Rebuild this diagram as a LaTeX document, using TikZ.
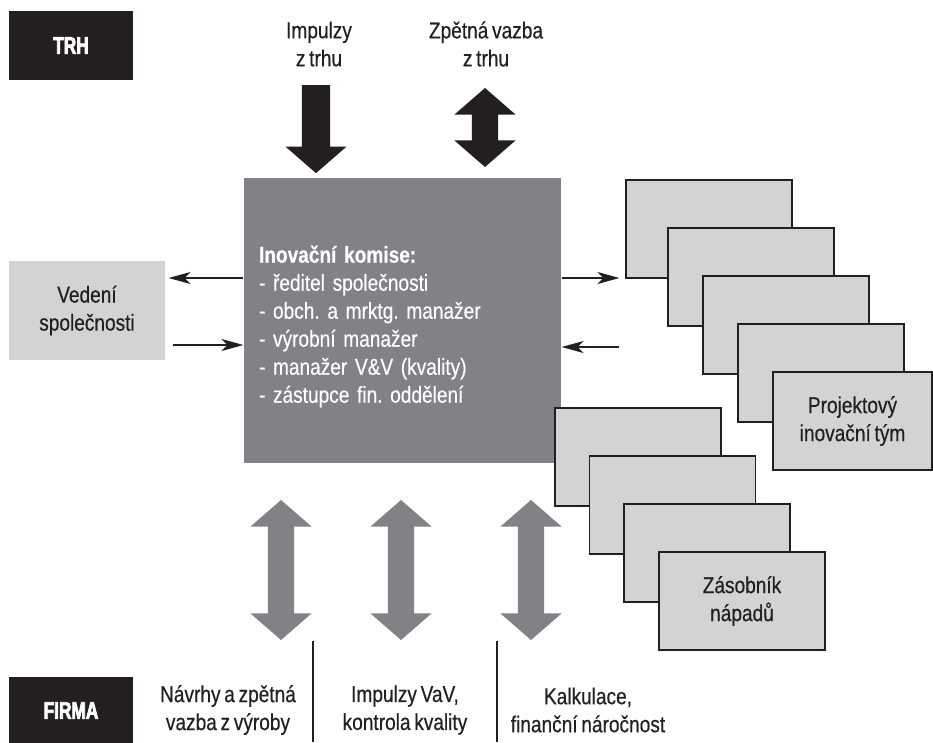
\documentclass[tikz,border=0pt]{standalone}
\usepackage{fontspec}
\setmainfont{Liberation Sans}[FakeStretch=0.83, WordSpace=0.7, FakeBold=0.4]
\newfontfamily\tagfont{Liberation Sans}[FakeStretch=0.72, BoldFeatures={FakeBold=3}]
\usetikzlibrary{arrows.meta, positioning, shapes.arrows}
\definecolor{cdark}{HTML}{231F20}
\definecolor{cgrey}{HTML}{808285}
\definecolor{clight}{HTML}{D1D3D4}
\tikzset{
  every picture/.style={line width=1.2pt},
  txt/.style={font=\fontsize{23}{28}\selectfont\frenchspacing, text=cdark, align=center},
  tag/.style={fill=cdark, text=white, font=\fontsize{24}{26}\selectfont\tagfont\bfseries, minimum width=124pt, minimum height=#1, inner sep=0pt},
  tag/.default=69pt,
  panel/.style={fill=cgrey, minimum width=317pt, minimum height=285pt, inner sep=0pt},
  paneltext/.style={text=white, font=\fontsize{23}{28}\selectfont\frenchspacing, text width=287pt, inner sep=0pt, align=left},
  sheet/.style={draw=cdark, fill=clight, minimum width=166pt, minimum height=98pt, inner sep=0pt, txt},
  link/.style={-{Stealth[length=22pt, width=12pt, inset=6pt]}, draw=cdark, line width=1.8pt},
  bigdown/.style={single arrow, fill=#1, rotate=-90, text height=0pt, text depth=0pt, inner xsep=0pt, inner ysep=13.5pt, single arrow head extend=16.5pt, single arrow tip angle=98},
  bigboth/.style={double arrow, fill=#1, rotate=90, text height=0pt, text depth=0pt, inner xsep=0pt, inner ysep=12.5pt, double arrow head extend=17.5pt, double arrow tip angle=98},
  rule/.style={draw=cdark, line width=1.8pt},
}

\begin{document}
\begin{tikzpicture}[x=1pt, y=-1pt]
  \useasboundingbox[fill=white] (0,0) rectangle (933,742);

  \node[tag] (trh) at (71,45.5) {TRH};
  \node[tag=67pt] (firma) at (71,710.5) {FIRMA};

  \node[txt] (impulzy) at (319,44) {Impulzy\\z trhu};
  \node[txt] (zpetna) at (486,44) {Zpětná vazba\\z trhu};
  \node[bigdown=cdark, minimum height=88pt] (adown) at (316,123) {};
  \node[bigboth=cdark, minimum height=79pt] (aboth) at (485,127.5) {};

  \node[panel] (komise) at (402.5,320.5) {};
  \node[paneltext] (komisetxt) at ([yshift=-6pt]komise.center) {\textbf{Inovační komise:}\\- ředitel společnosti\\- obch. a mrktg. manažer\\- výrobní manažer\\- manažer V\&V (kvality)\\- zástupce fin. oddělení};
  \node[fill=clight, minimum width=156pt, minimum height=99pt, txt] (vedeni) at (87,310.5) {Vedení\\společnosti};

  % projektove tymy
  \node[sheet] (team1) at (709,229) {};
  \node[sheet] (team2) at (751,277) {};
  \node[sheet] (team3) at (786,325) {};
  \node[sheet] (team4) at (821,373) {};
  \node[sheet, minimum width=159pt] (team5) at (852.5,421) {Projektový\\inovační tým};

  % zasobnik napadu
  \foreach \i/\x/\y in {1/638/457, 2/672.5/505, 3/707/553} {
    \node[sheet] (pool\i) at (\x,\y) {};
  }
  \node[sheet] (pool4) at (742,601) {Zásobník\\nápadů};

  \coordinate (kv1) at ([yshift=42.5pt]komise.west);
  \coordinate (kv2) at ([yshift=-24.5pt]komise.west);
  \draw[link, shorten >=3pt] (kv1) -- (kv1 -| vedeni.east);
  \draw[link, shorten <=7pt] (kv2 -| vedeni.east) -- (kv2);
  \coordinate (kt1) at ([yshift=42.5pt]komise.east);
  \coordinate (kt2) at ([yshift=-26.5pt]komise.east);
  \draw[link, shorten >=6pt] (kt1) -- (kt1 -| team1.west);
  \draw[link, shorten <=6pt] (kt2 -| team1.west) -- (kt2);

  \foreach \i/\x in {1/281, 2/401, 3/531} {
    \node[bigboth=cgrey, minimum height=140pt] (arr\i) at (\x,570) {};
  }

  \draw[rule] (313,641) -- (313,742);
  \draw[rule] (497,641) -- (497,742);
  \node[txt] (vyroba) at (228,710) {Návrhy a zpětná\\vazba z výroby};
  \node[txt] (vav) at (405,710) {Impulzy VaV,\\kontrola kvality};
  \node[txt] (kalk) at (588,710) {Kalkulace,\\finanční náročnost};
\end{tikzpicture}
\end{document}
